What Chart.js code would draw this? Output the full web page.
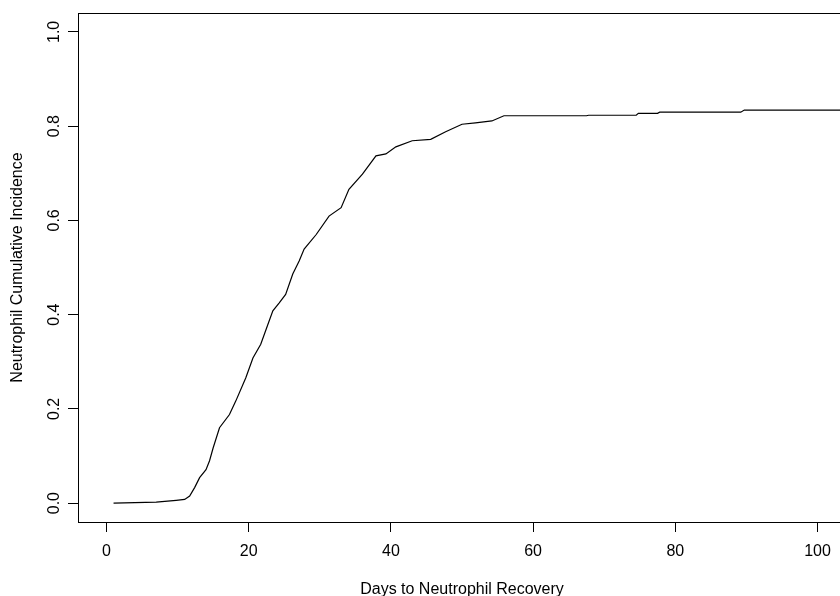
<!DOCTYPE html>
<html>
<head>
<meta charset="utf-8">
<title>Neutrophil Cumulative Incidence</title>
<script src="https://cdn.jsdelivr.net/npm/chart.js@4/dist/chart.umd.min.js"></script>
<style>
	html, body { margin: 0; padding: 0; background: #fff; overflow: hidden; }
	#wrap { width: 860px; height: 596px; }
</style>
</head>
<body>
<div id="wrap"><canvas id="chartDisplay" width="860" height="596"></canvas></div>
<script>
// days and cumulative incidence
var days = [1, 7, 9.8, 11, 11.7, 12.4, 13.1, 14.0, 14.5, 15.0, 15.9, 17.3, 18.2, 19.6, 20.6,
	21.7, 22.7, 23.4, 24.3, 25.2, 26.2, 27.1, 27.8, 29.5, 31.3, 33.0, 34.1, 36.0, 37.9,
	39.3, 40.7, 43.0, 45.6, 47.7, 50.0, 51.9, 54.2, 55.9, 67.5, 67.8, 74.5, 74.8, 77.5,
	77.8, 89.2, 89.7, 104];
var incidence = [0, 0.002, 0.006, 0.008, 0.015, 0.033, 0.054, 0.071, 0.09, 0.117, 0.16, 0.188,
	0.217, 0.266, 0.308, 0.337, 0.379, 0.408, 0.425, 0.443, 0.486, 0.514, 0.539, 0.570, 0.609,
	0.627, 0.666, 0.698, 0.737, 0.741, 0.756, 0.769, 0.772, 0.788, 0.804, 0.807, 0.811, 0.822,
	0.822, 0.823, 0.823, 0.827, 0.827, 0.8295, 0.8295, 0.834, 0.834];
var xTicks = [0, 20, 40, 60, 80, 100];
var yTicks = [0, 0.2, 0.4, 0.6, 0.8, 1.0];

var font = { family: "'Liberation Sans', Arial, sans-serif", size: 16 };

// R style closed box round the plot area
var boxPlugin = {
	id: "box",
	afterDraw: function(chart) {
		var a = chart.chartArea;
		var ctx = chart.ctx;
		ctx.save();
		ctx.strokeStyle = "#000";
		ctx.lineWidth = 1;
		ctx.strokeRect(Math.round(a.left) + 0.5, Math.round(a.top) + 0.5,
			Math.round(a.right - a.left), Math.round(a.bottom - a.top));
		ctx.restore();
	}
};

function createChart() {
	var pts = [];
	days.forEach(function(d, i) {
		pts.push({ x: d, y: incidence[i] });
	});

	new Chart(document.getElementById("chartDisplay"), {
		type: "line",
		data: {
			datasets: [{
				data: pts,
				borderColor: "#000",
				borderWidth: 1.2,
				pointRadius: 0,
				tension: 0,
				fill: false
			}]
		},
		options: {
			responsive: false,
			animation: false,
			devicePixelRatio: 1,
			layout: { padding: { top: 13, right: 14, left: 0, bottom: 0 } },
			plugins: { legend: { display: false }, tooltip: { enabled: false } },
			scales: {
				x: {
					type: "linear",
					min: -4,
					max: 104,
					afterFit: function(s) { s.height = 74; },
					afterBuildTicks: function(s) { s.ticks = xTicks.map(function(v) { return { value: v }; }); },
					grid: { drawOnChartArea: false, tickLength: 10, color: "#000", lineWidth: 1 },
					border: { display: false },
					ticks: { color: "#000", font: font, padding: 10, maxRotation: 0,
						callback: function(v) { return String(v); } },
					title: { display: true, text: "Days to Neutrophil Recovery", color: "#000",
						font: { family: font.family, size: 16, lineHeight: 0.75 }, padding: { top: 0, bottom: 0 } }
				},
				y: {
					type: "linear",
					min: -0.04,
					max: 1.04,
					afterFit: function(s) { s.width = 78; },
					afterBuildTicks: function(s) { s.ticks = yTicks.map(function(v) { return { value: v }; }); },
					grid: { drawOnChartArea: false, tickLength: 10, color: "#000", lineWidth: 1 },
					border: { display: false },
					ticks: { color: "#000", font: font, padding: 2, minRotation: 90, maxRotation: 90,
						crossAlign: "center",
						callback: function(v) { return Number(v).toFixed(1); } },
					title: { display: true, text: "Neutrophil Cumulative Incidence", color: "#000",
						font: { family: font.family, size: 16, lineHeight: 1 }, padding: { top: 10, bottom: 0 } }
				}
			}
		},
		plugins: [boxPlugin]
	});
}

createChart();
</script>
</body>
</html>
